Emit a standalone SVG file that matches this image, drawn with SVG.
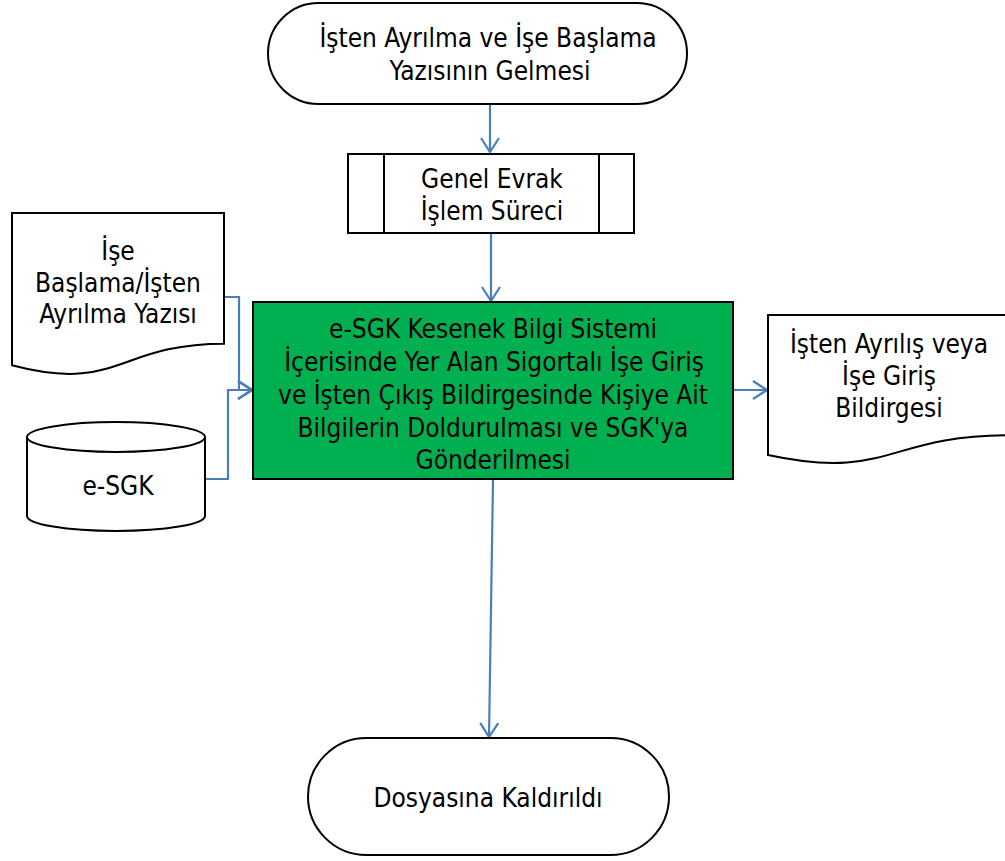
<svg xmlns="http://www.w3.org/2000/svg" width="1005" height="861" viewBox="0 0 1005 861">
<style>
.shape{fill:#fff;stroke:#000;stroke-width:2}
.green{fill:#00B050;stroke:#000;stroke-width:2}
.t{font-family:"DejaVu Sans Condensed","DejaVu Sans",Verdana,sans-serif;font-stretch:condensed;font-size:26px;fill:#000;text-anchor:middle}
.conn{fill:none;stroke:#4A7EBB;stroke-width:2.2}
</style>
<defs>
<marker id="arr" viewBox="0 0 16 20" refX="15" refY="10" markerWidth="16" markerHeight="20" markerUnits="userSpaceOnUse" orient="auto">
<path d="M1,1 L15,10 L1,19" fill="none" stroke="#4A7EBB" stroke-width="2.2"/>
</marker>
</defs>
<g id="connectors">
<path class="conn" d="M490,104 V152" marker-end="url(#arr)"/>
<path class="conn" d="M491,233 V301" marker-end="url(#arr)"/>
<path class="conn" d="M224,297 H239 V390 H252" marker-end="url(#arr)"/>
<path class="conn" d="M205,479 H228 V390 H252" marker-end="url(#arr)"/>
<path class="conn" d="M733,390 H767" marker-end="url(#arr)"/>
<path class="conn" d="M493,480 L489,737" marker-end="url(#arr)"/>
</g>
<g id="start">
<rect class="shape" x="268" y="3" width="419" height="101" rx="50.5" ry="50.5"/>
<text class="t" x="488" y="47">İşten Ayrılma ve İşe Başlama</text>
<text class="t" x="490" y="80">Yazısının Gelmesi</text>
</g>
<g id="process">
<rect class="shape" x="348" y="154" width="286" height="79"/>
<path class="shape" d="M384,154 V233 M599,154 V233"/>
<text class="t" x="492" y="188">Genel Evrak</text>
<text class="t" x="492" y="220">İşlem Süreci</text>
</g>
<g id="doc-left">
<path class="shape" d="M12,213 H224 V343.7 C118,343.7 118,393.5 12,365.3 Z"/>
<text class="t" x="118" y="260">İşe</text>
<text class="t" x="118" y="292">Başlama/İşten</text>
<text class="t" x="118" y="323">Ayrılma Yazısı</text>
</g>
<g id="db">
<path class="shape" d="M27,437 A89,15 0 0,1 205,437 V516 A89,15 0 0,1 27,516 Z"/>
<path class="shape" style="fill:none" d="M27,437 A89,15 0 0,0 205,437"/>
<text class="t" x="118" y="495">e-SGK</text>
</g>
<g id="main">
<rect class="green" x="253" y="302" width="480" height="177"/>
<text class="t" x="493" y="338">e-SGK Kesenek Bilgi Sistemi</text>
<text class="t" x="494" y="371">İçerisinde Yer Alan Sigortalı İşe Giriş</text>
<text class="t" x="493" y="404">ve İşten Çıkış Bildirgesinde Kişiye Ait</text>
<text class="t" x="493" y="437">Bilgilerin Doldurulması ve SGK'ya</text>
<text class="t" x="493" y="469">Gönderilmesi</text>
</g>
<g id="doc-right">
<path class="shape" d="M768,315 H1008 V435.3 C888,435.3 888,481.1 768,455.1 Z"/>
<text class="t" x="889" y="353">İşten Ayrılış veya</text>
<text class="t" x="889" y="385">İşe Giriş</text>
<text class="t" x="889" y="417">Bildirgesi</text>
</g>
<g id="end">
<rect class="shape" x="308" y="738" width="361" height="117" rx="58.5" ry="58.5"/>
<text class="t" x="488" y="807">Dosyasına Kaldırıldı</text>
</g>
</svg>
